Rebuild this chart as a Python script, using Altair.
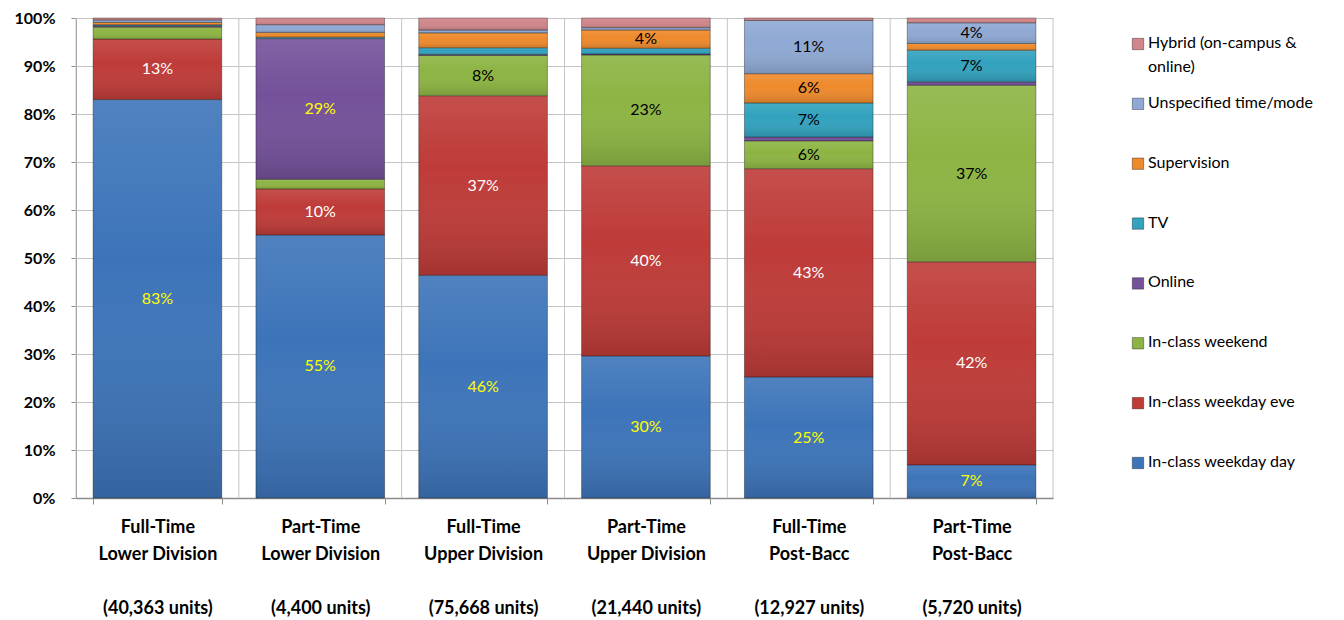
import altair as alt
import pandas as pd

groups = ["Full-Time|Lower Division", "Part-Time|Lower Division", "Full-Time|Upper Division",
          "Part-Time|Upper Division", "Full-Time|Post-Bacc", "Part-Time|Post-Bacc"]
units = ["(40,363 units)", "(4,400 units)", "(75,668 units)", "(21,440 units)",
         "(12,927 units)", "(5,720 units)"]

series = ["In-class weekday day", "In-class weekday eve", "In-class weekend", "Online", "TV",
          "Supervision", "Unspecified time/mode", "Hybrid (on-campus & online)"]

weekday_day = [83.0, 54.8, 46.4, 29.6, 25.2, 6.9]
weekday_eve = [12.6, 9.6, 37.4, 39.6, 43.4, 42.3]
weekend = [2.5, 2.0, 8.4, 23.1, 5.8, 36.8]
online = [0.3, 29.3, 0.2, 0.2, 0.8, 0.7]
tv = [0.2, 0.3, 1.4, 1.2, 7.1, 6.6]
supervision = [0.5, 1.0, 3.1, 3.8, 6.1, 1.4]
unspecified = [0.5, 1.6, 0.6, 0.5, 11.1, 4.3]
hybrid = [0.4, 1.4, 2.5, 2.0, 0.5, 1.0]

values = [weekday_day, weekday_eve, weekend, online, tv, supervision, unspecified, hybrid]

colors = ["#3D74B9", "#BE3B38", "#8DB443", "#74519A", "#32A2BE", "#EE8A2C", "#8FA9D4", "#D0868A"]
label_colors = ["#FFFF00", "#FFFFFF", "#000000", "#FFFF00", "#000000", "#000000", "#000000", "#000000"]
legend_labels = ["In-class weekday day", "In-class weekday eve", "In-class weekend", "Online", "TV",
                 "Supervision", "Unspecified time/mode", "Hybrid (on-campus &\nonline)"]

cats = [g + "|" + u for g, u in zip(groups, units)]

rows = []
for si, (s, vals) in enumerate(zip(series, values)):
    for gi, v in enumerate(vals):
        rows.append({"cat": cats[gi], "series": s, "order": si, "value": v,
                     "tcolor": label_colors[si]})
df = pd.DataFrame(rows)
cat_df = pd.DataFrame({"cat": cats})
last_df = pd.DataFrame({"cat": cats[-1:]})

FONT = "Lato"
GRID = "#c4c4c4"

x_scale = alt.Scale(paddingInner=0.21, paddingOuter=0.105)
grid_scale = alt.Scale(domain=cats, paddingInner=0, paddingOuter=0)

base = alt.Chart(df).transform_stack(
    stack="value", groupby=["cat"], sort=[alt.SortField("order", order="ascending")],
    as_=["y0", "y1"], offset="normalize"
).transform_calculate(mid="(datum.y0 + datum.y1) / 2")

x_axis = alt.Axis(title=None, labelExpr="slice(split(datum.label, '|'), 0, 2)", labelAngle=0,
                  labelFont=FONT, labelFontSize=18, labelFontWeight="bold",
                  labelColor="black", labelLineHeight=27, labelPadding=14,
                  labelLimit=300, tickBand="extent", grid=False, orient="bottom",
                  domainColor="#8c8c8c", domainWidth=1.5, tickColor="#8c8c8c", tickSize=6)

units_axis = alt.Axis(title=None, labelExpr="split(datum.label, '|')[2]", labelAngle=0,
                      labelFont=FONT, labelFontSize=18, labelFontWeight="bold",
                      labelColor="black", labelPadding=101, labelLimit=300, grid=False,
                      domain=False, ticks=False, orient="bottom")

y_axis = alt.Axis(format=".0%", values=[i / 10 for i in range(11)], title=None,
                  labelFont=FONT, labelFontSize=16, labelFontWeight="bold", labelColor="black",
                  grid=True, gridColor=GRID, domainColor="#8c8c8c", tickColor="#8c8c8c",
                  tickSize=5, labelPadding=16, minExtent=55, maxExtent=55)
y_scale = alt.Scale(domain=[0, 1], nice=False)

color_enc = alt.Color("series:N", scale=alt.Scale(domain=series, range=colors), legend=None)

vgrid = alt.Chart(cat_df).mark_rule(color=GRID, strokeWidth=1).encode(
    x=alt.X("cat:N", sort=cats, scale=grid_scale, bandPosition=0, axis=None),
)
vgrid_end = alt.Chart(last_df).mark_rule(color=GRID, strokeWidth=1).encode(
    x=alt.X("cat:N", sort=cats, scale=grid_scale, bandPosition=1, axis=None),
)

bars = base.mark_bar(stroke="rgba(0,0,0,0.35)", strokeWidth=1).encode(
    x=alt.X("cat:N", sort=cats, scale=x_scale, axis=x_axis),
    y=alt.Y("y0:Q", scale=y_scale, axis=y_axis),
    y2="y1:Q",
    color=color_enc,
)

gradient = alt.LinearGradient(
    gradient="linear", x1=0, y1=0, x2=0, y2=1,
    stops=[alt.GradientStop(offset=0, color="rgba(255,255,255,0.10)"),
           alt.GradientStop(offset=0.4, color="rgba(255,255,255,0.0)"),
           alt.GradientStop(offset=1, color="rgba(0,0,0,0.14)")])

overlay = base.mark_bar(color=gradient).encode(
    x=alt.X("cat:N", sort=cats, scale=x_scale, axis=None),
    y=alt.Y("y0:Q", scale=y_scale),
    y2="y1:Q",
)

labels = base.transform_filter("datum.value >= 3.5").transform_calculate(
    lbl="format(datum.value, '.0f') + '%'"
).mark_text(font=FONT, fontSize=16).encode(
    x=alt.X("cat:N", sort=cats, scale=x_scale, axis=units_axis),
    y=alt.Y("mid:Q", scale=y_scale),
    text="lbl:N",
    color=alt.Color("tcolor:N", scale=None),
)

main = alt.layer(vgrid, vgrid_end, bars, overlay, labels).resolve_scale(
    x="independent"
).properties(width=977, height=480)

leg_df = pd.DataFrame({"series": series, "label": legend_labels})
leg_y = alt.Y("series:N", sort=series[::-1],
              scale=alt.Scale(type="point", range=[26, 445], padding=0), axis=None)

leg_sq = alt.Chart(leg_df).mark_square(size=130, stroke="rgba(0,0,0,0.35)", strokeWidth=1,
                                       opacity=1).encode(
    x=alt.value(14), y=leg_y,
    color=alt.Color("series:N", scale=alt.Scale(domain=series, range=colors), legend=None),
)
leg_tx = alt.Chart(leg_df).mark_text(align="left", baseline="top", dy=-9, font=FONT, fontSize=16,
                                     lineBreak="\n", lineHeight=24, color="black").encode(
    x=alt.value(24), y=leg_y, text="label:N",
)
legend = alt.layer(leg_sq, leg_tx).properties(width=200, height=480)

chart = alt.hconcat(main, legend, spacing=70).configure_view(stroke=None).properties(
    padding={"left": 6, "top": 2, "right": 0, "bottom": 0}
)

chart.save("out.html", embed_options={"renderer": "svg", "actions": False})
